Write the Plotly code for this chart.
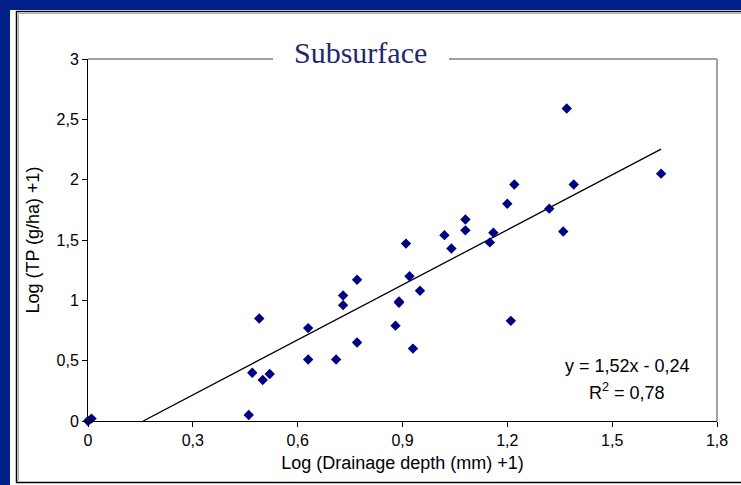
import plotly.graph_objects as go

# ---- data ----
drainage_log = [0.00, 0.01, 0.46, 0.47, 0.49, 0.50, 0.52, 0.63, 0.63, 0.71,
                0.73, 0.73, 0.77, 0.77, 0.88, 0.89, 0.89, 0.91, 0.92, 0.93,
                0.95, 1.02, 1.04, 1.08, 1.08, 1.15, 1.16, 1.20, 1.21, 1.22,
                1.32, 1.36, 1.37, 1.39, 1.64]
tp_log = [0.00, 0.02, 0.05, 0.40, 0.85, 0.34, 0.39, 0.77, 0.51, 0.51,
          1.04, 0.96, 0.65, 1.17, 0.79, 0.99, 0.98, 1.47, 1.20, 0.60,
          1.08, 1.54, 1.43, 1.58, 1.67, 1.48, 1.56, 1.80, 0.83, 1.96,
          1.76, 1.57, 2.59, 1.96, 2.05]

slope = 1.52
intercept = -0.24
r_squared = 0.78

x_tickvals = [0, 0.3, 0.6, 0.9, 1.2, 1.5, 1.8]
x_ticktext = ["0", "0,3", "0,6", "0,9", "1,2", "1,5", "1,8"]
y_tickvals = [0, 0.5, 1, 1.5, 2, 2.5, 3]
y_ticktext = ["0", "0,5", "1", "1,5", "2", "2,5", "3"]

# trend line over the data range, starting where it meets y = 0
x_start = max(min(drainage_log), -intercept / slope)
x_end = max(drainage_log)
trend_x = [x_start, x_end]
trend_y = [slope * v + intercept for v in trend_x]

# ---- layout geometry helpers (pixels -> paper) ----
W, H = 741, 485
L, R, T, B = 88, 24, 59, 64
PW, PH = W - L - R, H - T - B


def px(xp):
    return (xp - L) / PW


def py(yp):
    return (H - B - yp) / PH


fig = go.Figure()
fig.add_trace(go.Scatter(x=trend_x, y=trend_y, mode="lines",
                         line=dict(color="black", width=1.3),
                         hoverinfo="skip", showlegend=False))
fig.add_trace(go.Scatter(x=drainage_log, y=tp_log, mode="markers",
                         marker=dict(symbol="diamond", size=8, color="#000080",
                                     line=dict(width=0)),
                         cliponaxis=False, showlegend=False))

font_family = "Liberation Sans, Arial, sans-serif"

shapes = [
    # white panel
    dict(type="rect", xref="paper", yref="paper", x0=px(10), x1=px(800),
         y0=py(520), y1=py(10), fillcolor="white", line=dict(width=0), layer="below"),
    # black frame
    dict(type="rect", xref="paper", yref="paper", x0=px(16.5), x1=px(800),
         y0=py(482.5), y1=py(11.5), fillcolor="rgba(0,0,0,0)",
         line=dict(color="black", width=1.5), layer="below"),
    # grey inner shade (left and top)
    dict(type="line", xref="paper", yref="paper", x0=px(18.5), x1=px(18.5),
         y0=py(481), y1=py(13.5), line=dict(color="#B0B0B0", width=1), layer="below"),
    dict(type="line", xref="paper", yref="paper", x0=px(18.5), x1=px(800),
         y0=py(13.5), y1=py(13.5), line=dict(color="#B0B0B0", width=1), layer="below"),
    # plot-area border: top (broken by title) and right
    dict(type="line", xref="paper", yref="paper", x0=0, x1=px(273), y0=1, y1=1,
         line=dict(color="#A0A0A0", width=2), layer="below"),
    dict(type="line", xref="paper", yref="paper", x0=px(449), x1=1, y0=1, y1=1,
         line=dict(color="#A0A0A0", width=2), layer="below"),
    dict(type="line", xref="paper", yref="paper", x0=1, x1=1, y0=0, y1=1,
         line=dict(color="#A0A0A0", width=2), layer="below"),
]

annotations = [
    dict(text="Subsurface", xref="paper", yref="paper", x=px(360), y=1,
         xanchor="center", yanchor="middle", yshift=7, showarrow=False,
         font=dict(family="Liberation Serif, Times New Roman, serif", size=30,
                   color="#1C2A6B")),
    dict(text="y = 1,52x - 0,24", xref="paper", yref="paper", x=px(627), y=py(366),
         xanchor="center", yanchor="middle", showarrow=False,
         font=dict(family=font_family, size=18, color="black")),
    dict(text="R<sup>2</sup> = 0,78", xref="paper", yref="paper", x=px(627), y=py(391),
         xanchor="center", yanchor="middle", showarrow=False,
         font=dict(family=font_family, size=18, color="black")),
]

fig.update_layout(
    width=W, height=H,
    margin=dict(l=L, r=R, t=T, b=B, pad=0),
    paper_bgcolor="#002089",
    plot_bgcolor="white",
    shapes=shapes,
    annotations=annotations,
    showlegend=False,
    font=dict(family=font_family, color="black"),
    xaxis=dict(range=[0, 1.8], tickvals=x_tickvals, ticktext=x_ticktext,
               showgrid=False, zeroline=False, showline=True, linecolor="black",
               linewidth=1, ticks="outside", ticklen=5, tickcolor="black",
               tickfont=dict(size=16, color="black"),
               title=dict(text="Log (Drainage depth (mm) +1)",
                          font=dict(size=18, color="black"), standoff=8)),
    yaxis=dict(range=[0, 3], tickvals=y_tickvals, ticktext=y_ticktext,
               showgrid=False, zeroline=False, showline=True, linecolor="black",
               linewidth=1, ticks="outside", ticklen=5, tickcolor="black",
               tickfont=dict(size=16, color="black"),
               title=dict(text="Log (TP (g/ha) +1)",
                          font=dict(size=18, color="black"), standoff=12)),
)

fig.write_html("out.html",
               config={"displayModeBar": False},
               post_script="document.body.style.margin='0';"
                           "document.body.style.overflow='hidden';")
